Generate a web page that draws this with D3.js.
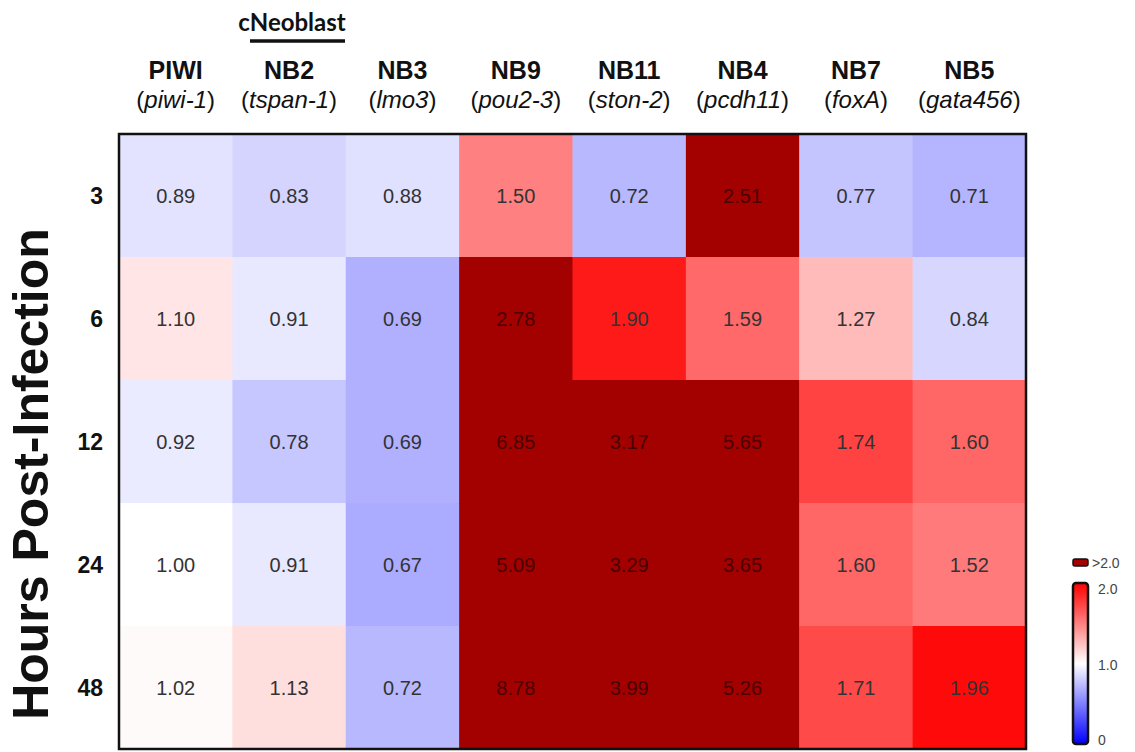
<!DOCTYPE html>
<html>
<head>
<meta charset="utf-8">
<script src="https://cdn.jsdelivr.net/npm/d3@7"></script>
<style>
  html, body { margin: 0; padding: 0; background: #fff; }
  svg { display: block; font-family: "Liberation Sans", Arial, sans-serif; }
</style>
</head>
<body>
<svg id="chart" width="1135" height="752"></svg>
<script>
// Neoblast subclass markers (columns) and sampling times (rows)
const clusters = ["PIWI", "NB2", "NB3", "NB9", "NB11", "NB4", "NB7", "NB5"];
const genes = ["piwi-1", "tspan-1", "lmo3", "pou2-3", "ston-2", "pcdh11", "foxA", "gata456"];
const hours = ["3", "6", "12", "24", "48"];

// Fold change per marker, one value per time point (3, 6, 12, 24, 48 h)
const piwi = [0.89, 1.10, 0.92, 1.00, 1.02];
const nb2 = [0.83, 0.91, 0.78, 0.91, 1.13];
const nb3 = [0.88, 0.69, 0.69, 0.67, 0.72];
const nb9 = [1.50, 2.78, 6.85, 5.09, 8.78];
const nb11 = [0.72, 1.90, 3.17, 3.29, 3.99];
const nb4 = [2.51, 1.59, 5.65, 3.65, 5.26];
const nb7 = [0.77, 1.27, 1.74, 1.60, 1.71];
const nb5 = [0.71, 0.84, 1.60, 1.52, 1.96];

const legendTicks = [0, 1.0, 2.0];

const columns = [piwi, nb2, nb3, nb9, nb11, nb4, nb7, nb5];
const cells = [];
columns.forEach((vals, ci) => vals.forEach((v, ri) => {
  cells.push({ col: clusters[ci], row: hours[ri], value: v });
}));

const svg = d3.select("#chart");
const gridLeft = 119, gridRight = 1026, gridTop = 134, gridBottom = 749;

const x = d3.scaleBand().domain(clusters).range([gridLeft, gridRight]);
const y = d3.scaleBand().domain(hours).range([gridTop, gridBottom]);

const color = d3.scaleLinear().domain([0, 1, 2]).range(["#0000ff", "#ffffff", "#ff0000"]).clamp(true);
const overColor = "#a30000";
const fill = v => v > 2 ? overColor : color(v);

// Heatmap cells
svg.append("g").selectAll("rect").data(cells).join("rect")
  .attr("x", d => x(d.col))
  .attr("y", d => y(d.row))
  .attr("width", x.bandwidth() + 0.5)
  .attr("height", y.bandwidth() + 0.5)
  .attr("fill", d => fill(d.value));

// Value labels
svg.append("g").selectAll("text").data(cells).join("text")
  .attr("x", d => x(d.col) + x.bandwidth() / 2)
  .attr("y", d => y(d.row) + y.bandwidth() / 2)
  .attr("text-anchor", "middle")
  .attr("dominant-baseline", "central")
  .attr("font-size", 20)
  .attr("fill", d => d.value > 2 ? "#3a0000" : "#333")
  .attr("opacity", d => d.value > 2 ? 0.85 : 1)
  .text(d => d.value.toFixed(2));

// Frame
svg.append("rect")
  .attr("x", gridLeft).attr("y", gridTop)
  .attr("width", gridRight - gridLeft).attr("height", gridBottom - gridTop)
  .attr("fill", "none").attr("stroke", "#111").attr("stroke-width", 2.5);

// Column headers: cluster name and marker gene
const head = svg.append("g").selectAll("g").data(clusters).join("g")
  .attr("transform", d => `translate(${x(d) + x.bandwidth() / 2},0)`);
head.append("text")
  .attr("y", 79).attr("text-anchor", "middle")
  .attr("font-size", 25).attr("font-weight", "bold").attr("fill", "#111")
  .text(d => d);
const gl = head.append("text")
  .attr("y", 108).attr("text-anchor", "middle")
  .attr("font-size", 24).attr("fill", "#111");
gl.append("tspan").text("(");
gl.append("tspan").attr("font-style", "italic").text((d, i) => genes[i]);
gl.append("tspan").text(")");

// cNeoblast bracket over NB2
svg.append("text")
  .attr("x", 292).attr("y", 31).attr("text-anchor", "middle")
  .attr("font-family", "Lato, 'Open Sans', sans-serif")
  .attr("font-size", 24).attr("font-weight", "bold").attr("fill", "#111")
  .text("cNeoblast");
svg.append("line")
  .attr("x1", 250).attr("x2", 345)
  .attr("y1", 41).attr("y2", 41)
  .attr("stroke", "#111").attr("stroke-width", 3.5);

// Row labels
svg.append("g").selectAll("text").data(hours).join("text")
  .attr("x", 103)
  .attr("y", d => y(d) + y.bandwidth() / 2)
  .attr("text-anchor", "end").attr("dominant-baseline", "central")
  .attr("font-size", 23).attr("font-weight", "bold").attr("fill", "#111")
  .text(d => d);

// Axis title
svg.append("text")
  .attr("transform", "translate(48,474) rotate(-90)")
  .attr("text-anchor", "middle")
  .attr("font-size", 50).attr("font-weight", "bold").attr("fill", "#111")
  .text("Hours Post-Infection");

// Colour legend
const lgX = 1073, lgW = 15, lgTop = 583, lgBottom = 744;
const ly = d3.scaleLinear().domain([0, 2]).range([740, 589]);
const defs = svg.append("defs");
const grad = defs.append("linearGradient").attr("id", "lg")
  .attr("x1", 0).attr("x2", 0).attr("y1", 1).attr("y2", 0);
legendTicks.forEach(t => grad.append("stop")
  .attr("offset", t / 2).attr("stop-color", color(t)));

svg.append("rect")
  .attr("x", lgX).attr("y", lgTop).attr("width", lgW).attr("height", lgBottom - lgTop)
  .attr("rx", 3).attr("fill", "url(#lg)").attr("stroke", "#111").attr("stroke-width", 2.5);

svg.append("rect")
  .attr("x", lgX).attr("y", 559).attr("width", lgW).attr("height", 7)
  .attr("rx", 2).attr("fill", overColor).attr("stroke", "#111").attr("stroke-width", 1.5);
svg.append("text")
  .attr("x", 1092).attr("y", 563).attr("dominant-baseline", "central")
  .attr("font-size", 14).attr("fill", "#444").text(">2.0");

svg.append("g").selectAll("text").data(legendTicks).join("text")
  .attr("x", 1098)
  .attr("y", d => ly(d))
  .attr("dominant-baseline", "central")
  .attr("font-size", 14).attr("fill", "#444")
  .text(d => d === 0 ? "0" : d.toFixed(1));
</script>
</body>
</html>
